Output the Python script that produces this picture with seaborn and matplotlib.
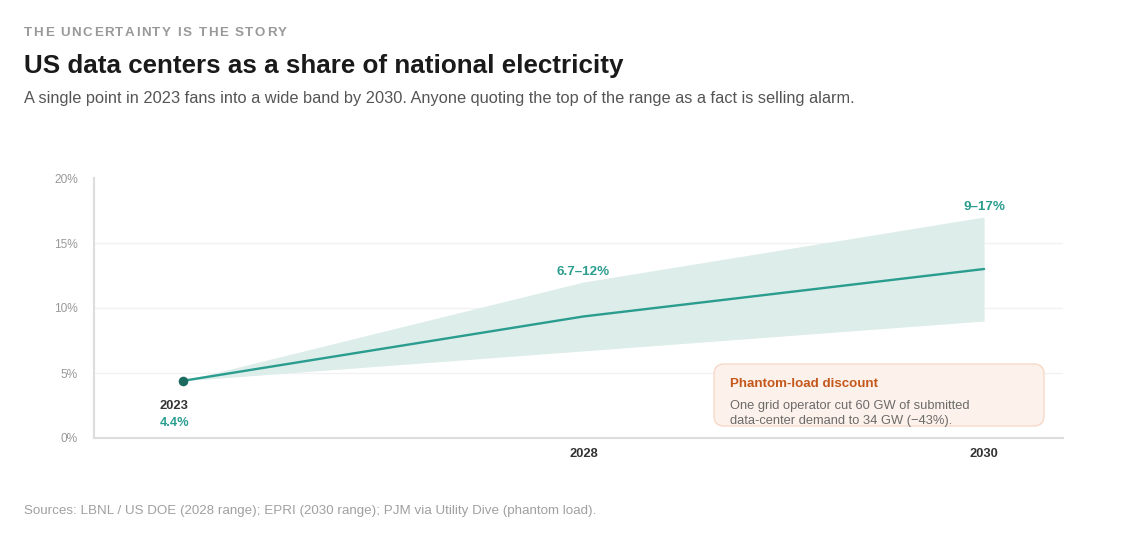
import pandas as pd
import seaborn as sns
import matplotlib.pyplot as plt
from matplotlib.patches import FancyBboxPatch

# Data
years = ["2023", "2028", "2030"]
low = [4.4, 6.7, 9.0]
high = [4.4, 12.0, 17.0]
mid = [4.4, 9.35, 13.0]
range_labels = ["", "6.7–12%", "9–17%"]
y_ticks = [0, 5, 10, 15, 20]

teal = "#2a9d8f"
dark_teal = "#1d6b60"
band = "#dcedea"

sns.set_theme(style="white")
plt.rcParams["font.family"] = ["Liberation Sans", "DejaVu Sans"]

df = pd.DataFrame({"year": years, "pos": range(len(years)), "low": low, "high": high, "mid": mid})

fig = plt.figure(figsize=(11.33, 5.4), dpi=100)
ax = fig.add_axes([94 / 1133, 102 / 540, (1063 - 94) / 1133, (438 - 178) / 540])

# band + midline
ax.fill_between(df["pos"], df["low"], df["high"], color=band, linewidth=0, zorder=1)
sns.lineplot(data=df, x="pos", y="mid", color=teal, linewidth=1.7, ax=ax, zorder=3)
ax.scatter(df["pos"][:1], df["mid"][:1], s=48, color=dark_teal, zorder=4, linewidth=0)

ax.set_xlim(-0.222, 2.197)
ax.set_ylim(0, 20)
ax.set_yticks(y_ticks)
ax.set_yticklabels([f"{t}%" for t in y_ticks], color="#999999", fontsize=8.6)
ax.set_xticks(df["pos"][1:])
ax.set_xticklabels(years[1:], fontsize=9.3, fontweight="bold", color="#333333")
ax.tick_params(axis="both", length=0)
ax.tick_params(axis="y", pad=11.5)
ax.tick_params(axis="x", pad=7)
ax.set_xlabel("")
ax.set_ylabel("")
for t in y_ticks[1:-1]:
    ax.axhline(t, color="#f2f2f2", linewidth=1, zorder=0)
for s in ["top", "right"]:
    ax.spines[s].set_visible(False)
for s in ["left", "bottom"]:
    ax.spines[s].set_color("#dddddd")
    ax.spines[s].set_linewidth(1.5)

# labels
ax.text(df["pos"][0] - 0.022, df["mid"][0] - 1.95, years[0], ha="center", va="center",
        fontsize=9.3, fontweight="bold", color="#333333")
ax.text(df["pos"][0] - 0.022, df["mid"][0] - 3.25, f"{mid[0]}%", ha="center", va="center",
        fontsize=9.3, fontweight="bold", color=teal)
for p, h, lab in zip(df["pos"], high, range_labels):
    if lab:
        ax.text(p, h + 0.8, lab, ha="center", va="center", fontsize=9.6,
                fontweight="bold", color=teal)

# annotation box
box = FancyBboxPatch((714, 114), 330, 62, boxstyle="round,pad=0,rounding_size=10",
                     transform=None, facecolor="#fdf1eb", edgecolor="#f6d9c9",
                     linewidth=1, zorder=1)
fig.patches.append(box)
fig.text(730 / 1133, 1 - 384 / 540, "Phantom-load discount", ha="left", va="center",
         fontsize=9.6, fontweight="bold", color="#c4581c", zorder=6)
fig.text(730 / 1133, 1 - 406 / 540, "One grid operator cut 60 GW of submitted", ha="left",
         va="center", fontsize=9.3, color="#6b6b6b", zorder=6)
fig.text(730 / 1133, 1 - 421 / 540, "data-center demand to 34 GW (−43%).", ha="left",
         va="center", fontsize=9.3, color="#6b6b6b", zorder=6)

# kicker with letter spacing, drawn char by char
fig.canvas.draw()
renderer = fig.canvas.get_renderer()
kicker = "THE UNCERTAINTY IS THE STORY"
x_px = 24
for ch in kicker:
    t = fig.text(x_px / 1133, 1 - 33 / 540, ch, ha="left", va="center",
                 fontsize=9.6, fontweight="bold", color="#999999")
    w = t.get_window_extent(renderer).width if ch != " " else 3.7
    x_px += w + 1.5

fig.text(24 / 1133, 1 - 66 / 540, "US data centers as a share of national electricity",
         ha="left", va="center", fontsize=18.7, fontweight="bold", color="#1a1a1a")
fig.text(24 / 1133, 1 - 99 / 540,
         "A single point in 2023 fans into a wide band by 2030. Anyone quoting the top of the range as a fact is selling alarm.",
         ha="left", va="center", fontsize=11.8, color="#555555")
fig.text(24 / 1133, 1 - 511 / 540,
         "Sources: LBNL / US DOE (2028 range); EPRI (2030 range); PJM via Utility Dive (phantom load).",
         ha="left", va="center", fontsize=9.6, color="#a0a0a0")

fig.savefig("out.png", dpi=100, facecolor="white")
